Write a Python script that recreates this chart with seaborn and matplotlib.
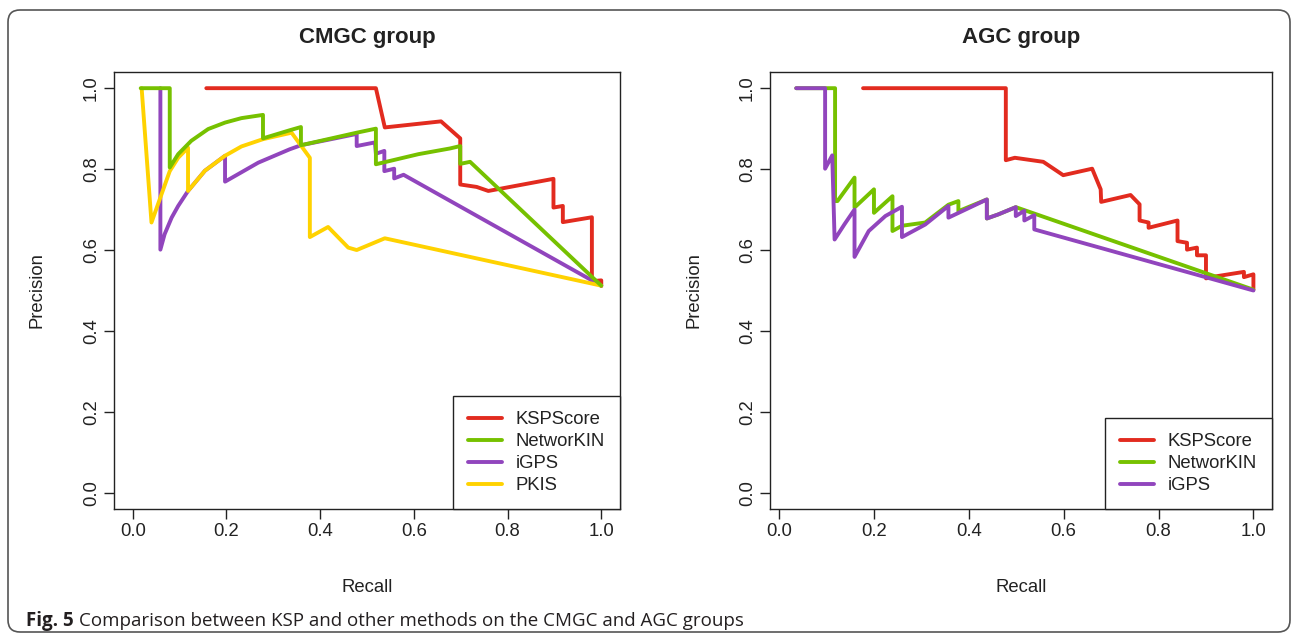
import matplotlib
matplotlib.use("Agg")
import matplotlib.pyplot as plt
import seaborn as sns
from matplotlib.patches import FancyBboxPatch

# --- CMGC group: precision-recall curves ---
cmgc_ksp_recall = [0.157, 0.519, 0.538, 0.658, 0.699, 0.699, 0.734, 0.759, 0.898, 0.898,
                   0.918, 0.918, 0.980, 0.980, 1.0, 1.0]
cmgc_ksp_precision = [1.0, 1.0, 0.903, 0.918, 0.876, 0.762, 0.756, 0.746, 0.776, 0.705,
                      0.709, 0.669, 0.681, 0.523, 0.525, 0.511]

cmgc_nkin_recall = [0.017, 0.079, 0.079, 0.097, 0.125, 0.161, 0.197, 0.232, 0.278, 0.278,
                    0.335, 0.359, 0.359, 0.432, 0.478, 0.519, 0.519, 0.610, 0.677, 0.699,
                    0.699, 0.720, 1.0]
cmgc_nkin_precision = [1.0, 1.0, 0.804, 0.837, 0.870, 0.899, 0.915, 0.926, 0.934, 0.876,
                       0.896, 0.904, 0.859, 0.878, 0.890, 0.900, 0.812, 0.837, 0.851, 0.857,
                       0.813, 0.818, 0.512]

cmgc_igps_recall = [0.059, 0.059, 0.068, 0.083, 0.097, 0.118, 0.154, 0.197, 0.197, 0.268,
                    0.335, 0.359, 0.432, 0.478, 0.478, 0.517, 0.519, 0.537, 0.537, 0.558,
                    0.558, 0.578, 1.0]
cmgc_igps_precision = [1.0, 0.601, 0.639, 0.680, 0.709, 0.746, 0.796, 0.833, 0.769, 0.816,
                       0.849, 0.859, 0.876, 0.887, 0.857, 0.866, 0.838, 0.845, 0.795, 0.801,
                       0.777, 0.786, 0.512]

cmgc_pkis_recall = [0.019, 0.040, 0.079, 0.097, 0.118, 0.118, 0.154, 0.197, 0.232, 0.278,
                    0.339, 0.378, 0.378, 0.417, 0.460, 0.478, 0.538, 1.0]
cmgc_pkis_precision = [1.0, 0.668, 0.795, 0.828, 0.853, 0.746, 0.796, 0.833, 0.856, 0.874,
                       0.890, 0.828, 0.632, 0.657, 0.606, 0.600, 0.629, 0.512]

# --- AGC group ---
agc_ksp_recall = [0.177, 0.478, 0.478, 0.497, 0.557, 0.599, 0.660, 0.678, 0.679, 0.741,
                  0.760, 0.760, 0.779, 0.779, 0.840, 0.840, 0.860, 0.860, 0.881, 0.881,
                  0.900, 0.900, 0.921, 0.980, 0.980, 1.0, 1.0]
agc_ksp_precision = [1.0, 1.0, 0.822, 0.828, 0.818, 0.785, 0.801, 0.750, 0.719, 0.736,
                     0.713, 0.673, 0.668, 0.655, 0.673, 0.622, 0.618, 0.601, 0.606, 0.587,
                     0.587, 0.530, 0.535, 0.546, 0.533, 0.540, 0.502]

agc_nkin_recall = [0.036, 0.118, 0.118, 0.123, 0.159, 0.159, 0.200, 0.200, 0.239, 0.239,
                   0.259, 0.308, 0.357, 0.378, 0.378, 0.438, 0.438, 0.462, 0.499, 1.0]
agc_nkin_precision = [1.0, 1.0, 0.721, 0.721, 0.779, 0.705, 0.750, 0.692, 0.733, 0.647,
                      0.660, 0.668, 0.712, 0.721, 0.696, 0.725, 0.678, 0.688, 0.706, 0.502]

agc_igps_recall = [0.036, 0.097, 0.097, 0.112, 0.117, 0.138, 0.159, 0.159, 0.189, 0.224,
                   0.259, 0.259, 0.308, 0.357, 0.357, 0.438, 0.438, 0.462, 0.499, 0.499,
                   0.517, 0.517, 0.538, 0.538, 1.0]
agc_igps_precision = [1.0, 1.0, 0.801, 0.834, 0.626, 0.664, 0.700, 0.583, 0.647, 0.684,
                      0.707, 0.632, 0.663, 0.709, 0.680, 0.725, 0.678, 0.688, 0.706, 0.684,
                      0.697, 0.673, 0.686, 0.651, 0.500]

method_names = ["KSPScore", "NetworKIN", "iGPS", "PKIS"]
tick_values = [0.0, 0.2, 0.4, 0.6, 0.8, 1.0]
tick_labels = ["0.0", "0.2", "0.4", "0.6", "0.8", "1.0"]

COLORS = {"KSPScore": "#e22b1f", "NetworKIN": "#76c100",
          "iGPS": "#9145bd", "PKIS": "#ffd200"}
INK = "#222222"
FS = 13.3

sns.set_theme(style="ticks")
plt.rcParams["font.family"] = ["Liberation Sans", "DejaVu Sans"]


def draw_panel(ax, title, series, xlim):
    # series: (name, recall, precision, zorder)
    for name, rec, prec, z in series:
        sns.lineplot(x=rec, y=prec, ax=ax, sort=False, estimator=None,
                     color=COLORS[name], lw=2.8, label=name, zorder=z,
                     solid_joinstyle="round", solid_capstyle="round")
    ax.set_xlim(*xlim)
    ax.set_ylim(-0.04, 1.04)
    ax.set_xticks(tick_values, tick_labels)
    ax.set_yticks(tick_values, tick_labels)
    ax.tick_params(direction="out", length=7, width=1, color=INK,
                   labelsize=FS, labelcolor=INK, pad=3)
    ax.tick_params(axis="y", labelrotation=90)
    for lbl in ax.get_yticklabels():
        lbl.set_va("center")
    for sp in ax.spines.values():
        sp.set_visible(True)
        sp.set_color(INK)
        sp.set_linewidth(1.0)

    ax.set_xlabel("Recall", fontsize=FS, color=INK, va="center")
    ax.xaxis.set_label_coords(0.5, -78 / 437)
    ax.set_ylabel("Precision", fontsize=FS, color=INK, va="center")
    ax.yaxis.set_label_coords(-77 / 506, 0.5)
    ax.text(0.5, 1 + 34 / 437, title, transform=ax.transAxes, ha="center",
            va="center", fontsize=16, fontweight="bold", color=INK)

    handles, labels = ax.get_legend_handles_labels()
    order = [labels.index(n) for n in method_names if n in labels]
    leg = ax.legend([handles[i] for i in order], [labels[i] for i in order],
                    loc="lower right", borderaxespad=0, fancybox=False,
                    framealpha=1, edgecolor=INK, fontsize=FS,
                    handlelength=1.85, handletextpad=0.75, labelspacing=0.27,
                    borderpad=0.8)
    leg.get_frame().set_linewidth(1.0)
    for t in leg.get_texts():
        t.set_color(INK)


fig = plt.figure(figsize=(12.95, 6.36), dpi=100)
ax1 = fig.add_axes([114 / 1295, 127 / 636, 506 / 1295, 437 / 636])
ax2 = fig.add_axes([770 / 1295, 127 / 636, 502 / 1295, 437 / 636])

draw_panel(ax1, "CMGC group", [
    ("KSPScore", cmgc_ksp_recall, cmgc_ksp_precision, 2),
    ("iGPS", cmgc_igps_recall, cmgc_igps_precision, 3),
    ("PKIS", cmgc_pkis_recall, cmgc_pkis_precision, 4),
    ("NetworKIN", cmgc_nkin_recall, cmgc_nkin_precision, 5),
], (-0.04, 1.04))

draw_panel(ax2, "AGC group", [
    ("KSPScore", agc_ksp_recall, agc_ksp_precision, 2),
    ("NetworKIN", agc_nkin_recall, agc_nkin_precision, 3),
    ("iGPS", agc_igps_recall, agc_igps_precision, 4),
], (-0.0192, 1.0392))

# rounded frame around the whole figure
frame = FancyBboxPatch((0.08, 0.04), 12.82, 6.22,
                       boxstyle="round,pad=0,rounding_size=0.12",
                       transform=fig.dpi_scale_trans, fill=False,
                       edgecolor="#555555", lw=1.2)
fig.patches.append(frame)

# caption
cap_font = ["Open Sans", "DejaVu Sans"]
t1 = fig.text(26 / 1295, 1 - 621 / 636, "Fig. 5", fontsize=13.5,
              fontweight="bold", family=cap_font, va="center", color="#231f20")
fig.canvas.draw()
bb = t1.get_window_extent()
fig.text(bb.x1 / fig.bbox.width + 5 / 1295, 1 - 621 / 636,
         "Comparison between KSP and other methods on the CMGC and AGC groups",
         fontsize=13.5, family=cap_font, va="center", color="#231f20")

fig.savefig("out.png", dpi=100)
